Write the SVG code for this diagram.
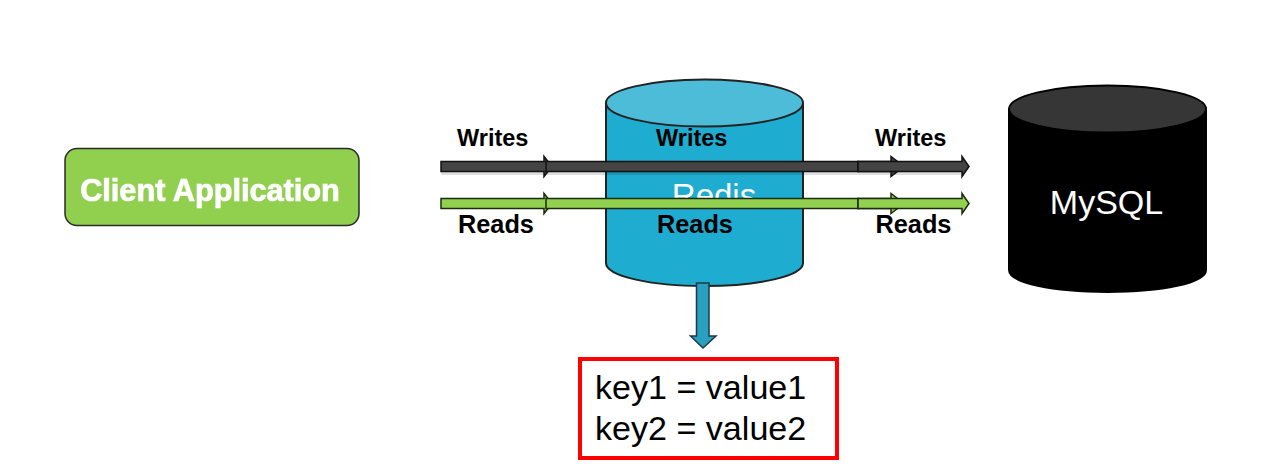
<svg xmlns="http://www.w3.org/2000/svg" width="1277" height="468" viewBox="0 0 1277 468">
<defs>
<style>
text{font-family:"Liberation Sans",Arial,sans-serif}
.lbl{font-weight:700;font-size:23.5px;fill:#000}
.cyl{stroke-width:2}
.dark{fill:#444;stroke:#111;stroke-width:1.5}
.green{fill:#92d050;stroke:#1c2a10;stroke-width:1.5}
.shade{fill:#000;opacity:.13}
.kv{font-size:34.1px;fill:#000}
</style>
<filter id="soft" x="-5%" y="-20%" width="110%" height="140%"><feGaussianBlur stdDeviation="0.7"/></filter>
</defs>
<rect width="1277" height="468" fill="#fff"/>
<g id="client-application">
<rect x="65" y="148.500" width="294" height="77" rx="12" fill="#90d04e" stroke="#2a2a2a" stroke-width="1.500"/>
<text x="210" y="201" text-anchor="middle" font-size="30.700" font-weight="700" fill="#fff" stroke="#fff" stroke-opacity=".55" stroke-width="1" filter="url(#soft)">Client Application</text>
<text x="210" y="201" text-anchor="middle" font-size="30.700" font-weight="700" fill="#fff">Client Application</text>
</g>
<g id="redis">
<path class="cyl" d="M606 103V263C606 276 650 286 704.500 286S803 276 803 263V103" fill="#1eacd0" stroke="#222"/>
<ellipse class="cyl" cx="704.500" cy="103" rx="98.500" ry="23.500" fill="#4cbcd8" stroke="#222"/>
<text x="714" y="207" text-anchor="middle" font-size="33px" fill="#fff">Redis</text>
<text class="lbl" x="656" y="146">Writes</text>
<text class="lbl" x="657" y="233" style="font-size:25.300px">Reads</text>
</g>
<g id="mysql">
<path class="cyl" d="M1009 110V270C1009 283 1053 292 1107.500 292S1206 283 1206 270V110Z" fill="#000" stroke="#000"/>
<ellipse class="cyl" cx="1107.500" cy="109" rx="98.500" ry="23.500" fill="#363636" stroke="#000"/>
<text x="1106.500" y="214" text-anchor="middle" font-size="34px" fill="#fff">MySQL</text>
</g>
<g id="connectors">
<rect class="shade" x="441" y="171" width="520" height="4"/>
<path class="dark" d="M858 161.500H891V156.500L904 166.500L891 176.500V171.500H858Z"/>
<path class="dark" d="M441 161.500H544V156.500L552 166.500L544 176.500V171.500H441Z"/>
<rect class="dark" x="546" y="161.500" width="312" height="10"/>
<path class="dark" d="M858 161.500H962V156.500L969 166.500L962 176.500V171.500H858Z"/>
<path class="green" d="M858 198.500H891V193.500L904 203.500L891 213.500V208.500H858Z"/>
<path class="green" d="M441 198.500H544V193.500L552 203.500L544 213.500V208.500H441Z"/>
<rect class="green" x="546" y="198.500" width="312" height="10"/>
<path class="green" d="M858 198.500H962V193.500L969 203.500L962 213.500V208.500H858Z"/>
<path d="M696.500 283H709V336H716L703 348L690.500 336H696.500Z" fill="#2aa0c0" stroke="#1d3a44" stroke-width="1.500"/>
</g>
<g id="labels">
<text class="lbl" x="457" y="146">Writes</text>
<text class="lbl" x="458" y="233" style="font-size:25.300px">Reads</text>
<text class="lbl" x="875" y="146">Writes</text>
<text class="lbl" x="875.500" y="233" style="font-size:25.300px">Reads</text>
</g>
<g id="key-values">
<rect x="580" y="359" width="257" height="99" fill="#fff" stroke="#f00" stroke-width="4"/>
<text class="kv" x="595" y="399">key1 = value1</text>
<text class="kv" x="595" y="440">key2 = value2</text>
</g>
</svg>
